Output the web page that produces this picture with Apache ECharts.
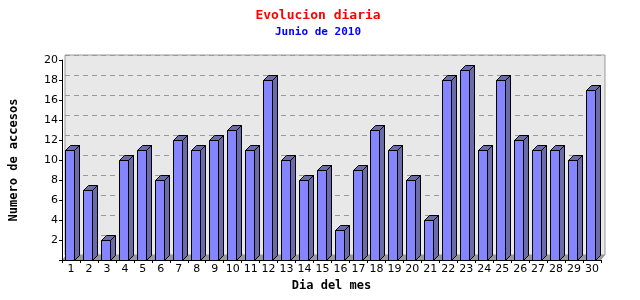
<!DOCTYPE html>
<html><head><meta charset="utf-8">
<script src="https://cdn.jsdelivr.net/npm/echarts@6/dist/echarts.min.js"></script>
<style>html,body{margin:0;padding:0;background:#fff}#c{width:640px;height:300px}</style>
</head><body><div id="c"></div>
<script>
const days = ['1','2','3','4','5','6','7','8','9','10','11','12','13','14','15','16','17','18','19','20','21','22','23','24','25','26','27','28','29','30'];
const accesos = [11,7,2,10,11,8,12,11,12,13,11,18,10,8,9,3,9,13,11,8,4,18,19,11,18,12,11,11,10,17];
const yTicks = [0,20,2];

const DX = 5, DY = 5;
const chart = echarts.init(document.getElementById('c'), null, {renderer:'canvas'});

function barItem(params, api){
  const i = api.value(0), v = api.value(1);
  const b = api.coord([i, 0]);
  const t = api.coord([i, v]);
  const bw = api.size([1,0])[0];
  const l = Math.round(b[0] - bw*0.33) + 0.5;
  const w = Math.round(bw*0.5);
  const bot = Math.round(b[1]) + 0.5;
  const top = Math.round(t[1]) + 0.5;
  const st = {stroke:'#000', lineWidth:1};
  return {type:'group', children:[
    {type:'polygon', shape:{points:[[l+w,top],[l+w+DX,top-DY],[l+w+DX,bot-DY],[l+w,bot]]}, style:Object.assign({fill:'#6b6ba9'},st)},
    {type:'polygon', shape:{points:[[l,top],[l+w,top],[l+w+DX,top-DY],[l+DX,top-DY]]}, style:Object.assign({fill:'#6b6ba9'},st)},
    {type:'rect', shape:{x:l, y:top, width:w, height:bot-top}, style:Object.assign({fill:'#8585ff'},st)}
  ]};
}
function floorItem(params, api){
  const bw = api.size([1,0])[0];
  const a = api.coord([0, 0]);
  const z = api.coord([days.length-1, 0]);
  const x0 = a[0]-bw/2, x1 = z[0]+bw/2, y = a[1];
  return {type:'polygon', shape:{points:[[x0,y],[x1,y],[x1+4,y-5],[x0+4,y-5]]}, style:{fill:'#999'}};
}

const option = {
  animation:false,
  title:{text:'Evolucion diaria', subtext:'Junio de 2010', left:313, textAlign:'center', top:4, itemGap:5,
    textStyle:{color:'#ff0000', fontFamily:'DejaVu Sans Mono', fontWeight:'bold', fontSize:13},
    subtextStyle:{color:'#0000ff', fontFamily:'DejaVu Sans Mono', fontWeight:'bold', fontSize:11}},
  grid:[
    {left:61, right:39, top:60, bottom:40, show:false},
    {left:65, right:35, top:55, bottom:45, show:true, backgroundColor:'#e8e8e8', borderColor:'#999', borderWidth:1, z:0}
  ],
  xAxis:[
    {type:'category', gridIndex:0, data:days, boundaryGap:true,
     axisLine:{show:true, lineStyle:{color:'#000', width:1}},
     axisTick:{show:true, length:3, interval:0, lineStyle:{color:'#000'}},
     axisLabel:{color:'#000', fontFamily:'DejaVu Sans', fontSize:11, margin:4, interval:0},
     name:'Dia del mes', nameLocation:'middle', nameGap:14,
     nameTextStyle:{color:'#000', fontFamily:'DejaVu Sans Mono', fontWeight:'bold', fontSize:12},
     z:5},
    {type:'category', gridIndex:1, data:days, show:true,
     axisLine:{show:false}, axisTick:{show:false}, axisLabel:{show:false}, splitLine:{show:false}}
  ],
  yAxis:[
    {type:'value', gridIndex:0, min:yTicks[0], max:yTicks[1], interval:yTicks[2],
     axisLine:{show:true, lineStyle:{color:'#000', width:1}},
     axisTick:{show:true, length:3, lineStyle:{color:'#000'}},
     axisLabel:{color:'#000', fontFamily:'DejaVu Sans', fontSize:11, margin:4, formatter:v=> v===0?'':String(v)},
     splitLine:{show:false},
     name:'Numero de accesos', nameLocation:'middle', nameGap:42, nameRotate:90,
     nameTextStyle:{color:'#000', fontFamily:'DejaVu Sans Mono', fontWeight:'bold', fontSize:12},
     z:5},
    {type:'value', gridIndex:1, min:yTicks[0], max:yTicks[1], interval:yTicks[2],
     axisLine:{show:false}, axisTick:{show:false}, axisLabel:{show:false},
     splitLine:{show:true, lineStyle:{color:'#999', type:[5,4], width:1}}}
  ],
  series:[
    {type:'custom', xAxisIndex:0, yAxisIndex:0, renderItem:floorItem, data:[[0,0]], z:1, silent:true},
    {type:'custom', xAxisIndex:0, yAxisIndex:0, renderItem:barItem, data:accesos.map((v,i)=>[i,v]), z:3}
  ]
};
chart.setOption(option);
</script></body></html>
